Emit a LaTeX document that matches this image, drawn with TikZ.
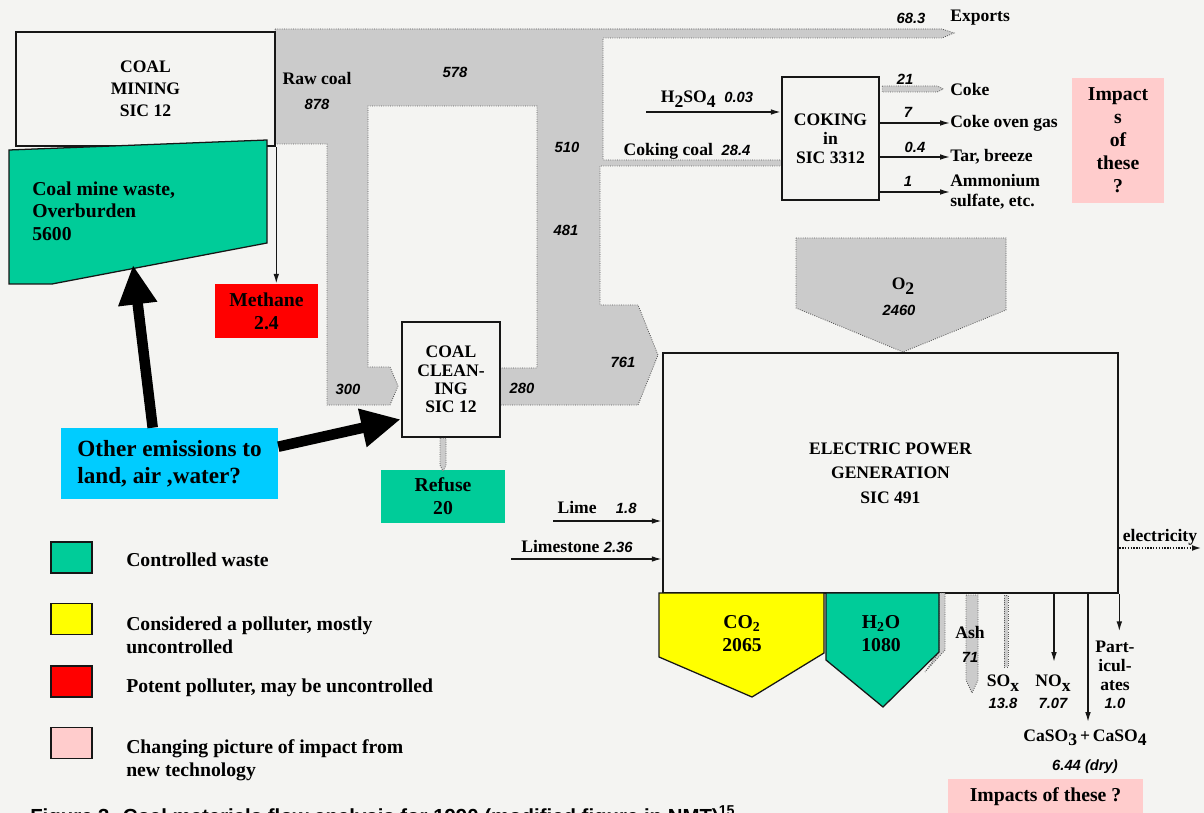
\documentclass[tikz,border=0pt]{standalone}
\usepackage{fontspec}
\setmainfont{Liberation Serif}
\setsansfont{Liberation Sans}
\usetikzlibrary{arrows.meta,calc}
\definecolor{FlowInk}{HTML}{161616}
\definecolor{FlowPaper}{HTML}{F4F4F2}
\definecolor{FlowBand}{HTML}{CBCBCB}
\definecolor{FlowBandEdge}{HTML}{5A5A5A}
\definecolor{FlowGreen}{HTML}{00CC99}
\definecolor{FlowYellow}{HTML}{FFFF00}
\definecolor{FlowRed}{HTML}{FF0000}
\definecolor{FlowPink}{HTML}{FFCCCC}
\definecolor{FlowCyan}{HTML}{00CCFF}
\newcommand\lowsub[1]{\raisebox{-.55ex}{#1}}
\newcommand\amt[1]{{\sffamily\itshape\bfseries\fontsize{10.5}{12}\selectfont #1}}
\tikzset{
  flow/process/.style={
    draw=FlowInk, line width=1.8pt, fill=FlowPaper, inner sep=0pt,
    align=center, font=\bfseries\fontsize{12.5}{15.6}\selectfont
  },
  flow/tag/.style={inner sep=0pt, align=center, font=\bfseries\fontsize{14}{16.4}\selectfont},
  flow/label/.style={inner sep=0pt, align=center, font=\bfseries\fontsize{12.5}{14}\selectfont},
  flow/num/.style={inner sep=0pt, font=\sffamily\itshape\bfseries\fontsize{10.5}{12}\selectfont},
  flow/band/.style={fill=FlowBand, draw=FlowBandEdge, line width=.6pt, densely dotted},
  flow/arrow/.style={-{Latex[length=7pt,width=4pt]}, line width=1pt, draw=FlowInk},
  flow/bigarrow/.style={-{Triangle[length=28pt,width=26pt]}, line width=7.5pt, draw=black},
  flow/key/.style={draw=FlowInk, line width=1.1pt, minimum width=1.025cm, minimum height=.775cm, inner sep=0pt},
  flow/keytext/.style={inner sep=0pt, align=left, font=\bfseries\fontsize{14}{16.4}\selectfont}
}

\begin{document}
\begin{tikzpicture}[x=.025cm,y=-.025cm]
  \path[use as bounding box, fill=FlowPaper] (0,0) rectangle (1204,813);

  \path[flow/band] (275,29) -- (942,29) -- (954,33) -- (942,38) -- (603,38) -- (603,160)
    -- (782,160) -- (782,166) -- (600,166) -- (600,305) -- (638,305) -- (658,355)
    -- (638,405) -- (500,405) -- (500,368) -- (537,368) -- (537,106) -- (368,106)
    -- (368,367) -- (390,367) -- (398,386) -- (390,405) -- (327,405) -- (327,144)
    -- (275,144) -- cycle;
  \path[flow/band] (796,238) -- (1006,238) -- (1006,310) -- (903,352) -- (796,308) -- cycle;

  \node[flow/process, minimum width=6.475cm, minimum height=2.85cm] (mining) at (145.5,89)
    {COAL\\MINING\\SIC 12};
  \node[flow/process, minimum width=2.425cm, minimum height=3.075cm,
    font=\bfseries\fontsize{12.5}{13.5}\selectfont] (coking) at (830.5,138.5)
    {COKING\\in\\SIC 3312};
  \node[flow/process, minimum width=2.45cm, minimum height=2.875cm,
    font=\bfseries\fontsize{12.5}{13}\selectfont] (cleaning) at (451,379.5)
    {COAL\\CLEAN-\\ING\\SIC 12};
  \node[flow/process, minimum width=11.375cm, minimum height=6cm,
    font=\bfseries\fontsize{12.5}{17.4}\selectfont] (power) at (890.5,473)
    {ELECTRIC POWER\\GENERATION\\SIC 491};

  \draw[fill=FlowGreen, draw=FlowInk, line width=.9pt]
    (9,150) -- (267,140) -- (267,243) -- (52,284) -- (9,284) -- cycle;
  \node[flow/tag, anchor=west, align=left, font=\bfseries\fontsize{14}{16}\selectfont] (waste)
    at (32,211) {Coal mine waste,\\Overburden\\5600};
  \node[flow/tag, fill=FlowRed, minimum width=2.575cm, minimum height=1.35cm] (methane)
    at (266.5,311) {Methane\\2.4};
  \draw[flow/arrow] (mining.south east) -- (mining.south east |- methane.north);

  \node[flow/tag, fill=FlowGreen, minimum width=3.1cm, minimum height=1.325cm] (refuse)
    at (443,496.5) {Refuse\\20};
  \path[flow/band] (cleaning.south -| refuse.north) ++(-3,0) -- ++(0,27) -- ++(3,6)
    -- ++(3,-6) -- ++(0,-27) -- cycle;

  \node[flow/num] at (317,78) {\rmfamily\upshape\fontsize{12.5}{14}\selectfont Raw coal};
  \node[flow/num] at (317,104) {878};
  \node[flow/num] at (455,72) {578};
  \node[flow/num] at (567,147) {510};
  \node[flow/num] at (566,230) {481};
  \node[flow/num] at (348,389) {300};
  \node[flow/num] at (522,388) {280};
  \node[flow/num] at (623,362) {761};
  \node[flow/num] (exportnum) at (911,18) {68.3};
  \node[flow/label, anchor=west] (exports) at (950,18) {Exports};

  \coordinate (acidin) at (646,112);
  \draw[flow/arrow] (acidin) -- (acidin -| coking.west);
  \node[flow/label] (acid) at (707,99) {H\lowsub{2}SO\lowsub{4}\ \ \amt{0.03}};
  \node[flow/label] (cokingcoal) at (687,151) {Coking coal\ \ \amt{28.4}};

  \node[flow/label, anchor=west] (coke) at (950,89) {Coke};
  \node[flow/label, anchor=west] (gas) at (950,123) {Coke oven gas};
  \node[flow/label, anchor=west] (tar) at (950,157) {Tar, breeze};
  \node[flow/label, anchor=west, align=left] (ammonium) at (950,192) {Ammonium\\sulfate, etc.};
  \path[flow/band] (coking.east |- coke.west) ++(2,-3) -- ++(55,0) -- ++(6,3) -- ++(-6,3)
    -- ++(-55,0) -- cycle;
  \draw[flow/arrow] (coking.east |- gas.west) -- (gas.west);
  \draw[flow/arrow] (coking.east |- tar.west) -- (tar.west);
  \draw[flow/arrow] (coking.east |- ammonium.west) -- (ammonium.west);
  \node[flow/num] at (905,79) {21};
  \node[flow/num] at (908,112) {7};
  \node[flow/num] at (915,147) {0.4};
  \node[flow/num] at (908,181) {1};

  \node[flow/tag, fill=FlowPink, minimum width=2.3cm, minimum height=3.125cm] (impactsright)
    at (1118,140.5) {Impact\\s\\of\\these\\?};

  \node[flow/label] (oxygen) at (903,286) {O\lowsub{2}};
  \node[flow/num] at (899,310) {2460};

  \coordinate (limein) at (553,521);
  \draw[flow/arrow] (limein) -- (limein -| power.west);
  \node[flow/label] (lime) at (597,507) {Lime\hspace{1.1em}\amt{1.8}};
  \coordinate (limestonein) at (511,559);
  \draw[flow/arrow] (limestonein) -- (limestonein -| power.west);
  \node[flow/label] (limestone) at (577,546) {Limestone \amt{2.36}};

  \path[flow/band] (939,593) -- (945,593) -- (945,650) -- (925,672) -- (939,652) -- cycle;
  \draw[fill=FlowYellow, draw=FlowInk, line width=.9pt]
    (659,593) -- (824,593) -- (824,653) -- (752,697) -- (659,657) -- cycle;
  \node[flow/tag] (co2) at (742,634) {CO\textsubscript{2}\\2065};
  \draw[fill=FlowGreen, draw=FlowInk, line width=.9pt]
    (826,593) -- (939,593) -- (939,652) -- (883,707) -- (826,660) -- cycle;
  \node[flow/tag] (h2o) at (881,634) {H\textsubscript{2}O\\1080};

  \path[flow/band] (966,595) -- (978,595) -- (978,680) -- (972,693) -- (966,680) -- cycle;
  \node[flow/label] (ash) at (970,632) {Ash};
  \node[flow/num] at (970,657) {71};
  \path[flow/band] (1004,595) -- (1008,595) -- (1008,667) -- (1004,667) -- cycle;
  \node[flow/label] (sox) at (1003,683) {SO\lowsub{x}};
  \node[flow/num] at (1003,703) {13.8};
  \coordinate (noxroot) at (1054,593);
  \draw[flow/arrow] (noxroot) -- ++(0,69);
  \node[flow/label] (nox) at (1053,683) {NO\lowsub{x}};
  \node[flow/num] at (1053,703) {7.07};
  \coordinate (casoroot) at (1088,593);
  \draw[flow/arrow] (casoroot) -- ++(0,129);
  \node[flow/label] (caso) at (1085,738) {CaSO\lowsub{3}\,+\,CaSO\lowsub{4}};
  \node[flow/num] at (1085,767) {6.44 (dry)};
  \draw[flow/arrow] (power.south east) -- ++(0,37);
  \node[flow/label, font=\bfseries\fontsize{12.5}{13.5}\selectfont] (particulates)
    at (1115,666) {Part-\\icul-\\ates};
  \node[flow/num] at (1115,703) {1.0};

  \coordinate (gridout) at (1202,548);
  \draw[flow/arrow, densely dotted, line width=1.6pt] (power.east |- gridout) -- (gridout);
  \node[flow/label] (electricity) at (1160,537) {electricity};

  \node[flow/tag, fill=FlowPink, minimum width=4.875cm, minimum height=.9cm] (impactsbelow)
    at (1045.5,797) {Impacts of these ?};

  \node[flow/tag, fill=FlowCyan, minimum width=5.425cm, minimum height=1.775cm, align=left,
    font=\bfseries\fontsize{16.5}{19.2}\selectfont] (other) at (169.5,463.5)
    {Other emissions to\\land, air ,water?};
  \coordinate (wastehit) at (133,265);
  \draw[flow/bigarrow] ($(other.north west)+(92,0)$) -- (wastehit);
  \draw[flow/bigarrow] ($(other.north east)+(0,19)$) -- ($(cleaning.south west)+(0,-19)$);

  \node[flow/key, fill=FlowGreen] (keywaste) at (71.5,557.5) {};
  \node[flow/key, fill=FlowYellow] (keypolluter) at (71.5,619) {};
  \node[flow/key, fill=FlowRed] (keypotent) at (71.5,681.5) {};
  \node[flow/key, fill=FlowPink] (keychanging) at (71.5,743) {};
  \node[flow/keytext, anchor=west] (keywastetext) at (126,560) {Controlled waste};
  \node[flow/keytext, anchor=west] (keypollutertext) at (126,635)
    {Considered a polluter, mostly\\uncontrolled};
  \node[flow/keytext, anchor=west] (keypotenttext) at (126,688)
    {Potent polluter, may be uncontrolled};
  \node[flow/keytext, anchor=west] (keychangingtext) at (126,760)
    {Changing picture of impact from\\new technology};

  \node[anchor=base west, inner sep=0pt, font=\sffamily\bfseries\fontsize{14.5}{16}\selectfont]
    (caption) at (30,823)
    {Figure 3. Coal materials flow analysis for 1990 (modified figure in NMT)\textsuperscript{15}};
\end{tikzpicture}
\end{document}
